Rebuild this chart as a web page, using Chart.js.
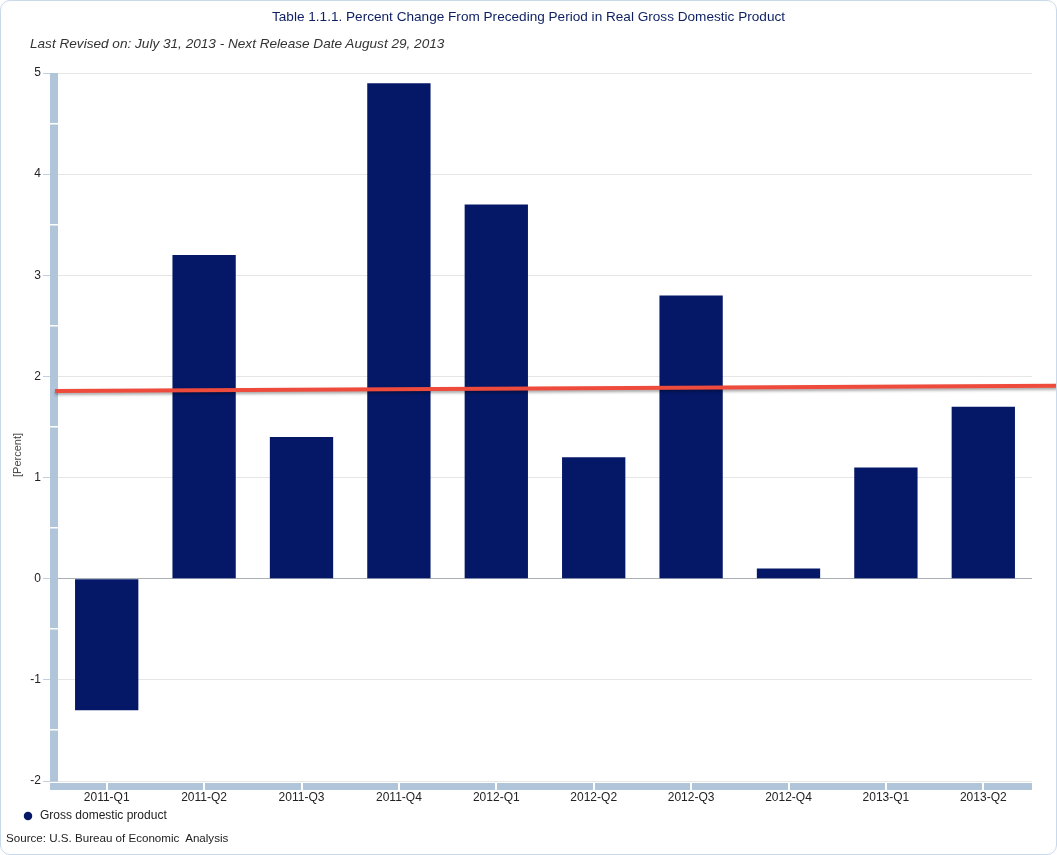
<!DOCTYPE html>
<html>
<head>
<meta charset="utf-8">
<script src="https://cdn.jsdelivr.net/npm/chart.js@4"></script>
<style>
  html, body { margin: 0; padding: 0; background: #fff; }
  #wrap { position: relative; width: 1057px; height: 855px; font-family: "Liberation Sans", Arial, sans-serif; }
  #chart { position: absolute; left: 0; top: 0; }
  #frame { position: absolute; left: 0; top: 0; width: 1057px; height: 855px; box-sizing: border-box;
           border: 1px solid #c9d8ea; border-radius: 10px; pointer-events: none; }
  #sub { position: absolute; left: 30px; top: 36px; font-style: italic; font-size: 13.6px; color: #333; white-space: nowrap; }
  #src { position: absolute; left: 6px; top: 831px; font-size: 11.6px; color: #222; white-space: pre; }
  #ytitle { position: absolute; left: 17px; top: 455px; transform: translate(-50%, -50%) rotate(-90deg);
            font-size: 11px; color: #444; white-space: nowrap; }
</style>
</head>
<body>
<div id="wrap">
  <canvas id="chart" width="1057" height="855"></canvas>
  <div id="sub">Last Revised on: July 31, 2013 - Next Release Date August 29, 2013</div>
  <div id="ytitle">[Percent]</div>
  <div id="src">Source: U.S. Bureau of Economic  Analysis</div>
  <div id="frame"></div>
</div>
<script>
// ---- data ----
const categories = ['2011-Q1', '2011-Q2', '2011-Q3', '2011-Q4', '2012-Q1', '2012-Q2', '2012-Q3', '2012-Q4', '2013-Q1', '2013-Q2'];
const gdpChange = [-1.3, 3.2, 1.4, 4.9, 3.7, 1.2, 2.8, 0.1, 1.1, 1.7];
const seriesName = 'Gross domestic product';
// reference line (position along category index, value in percent)
const trendX = [-0.53, 9.76];
const trendY = [1.855, 1.907];
const yMin = -2, yMax = 5, yStep = 1;

const navy = '#051868';
const axisBlue = '#b0c4da';
const FONT = '"Liberation Sans", Arial, sans-serif';

const axisBars = {
  id: 'axisBars',
  beforeDatasetsDraw(chart) {
    const { ctx, chartArea: a, scales } = chart;
    const x = scales.x, y = scales.y;
    ctx.save();
    ctx.fillStyle = axisBlue;
    ctx.fillRect(a.left - 8, a.top, 8, a.bottom - a.top);
    ctx.fillRect(a.left - 8, a.bottom + 2, a.right - a.left + 8, 7);
    ctx.fillStyle = '#ffffff';
    for (let v = yMin + yStep / 2; v < yMax; v += yStep) {
      const p = y.getPixelForValue(v);
      ctx.fillRect(a.left - 8, Math.round(p) - 1, 8, 1.5);
    }
    categories.forEach((c, i) => {
      const p = x.getPixelForValue(i);
      ctx.fillRect(Math.round(p) - 1, a.bottom + 2, 2, 7);
    });
    ctx.restore();
  }
};

const lineShadow = {
  id: 'lineShadow',
  beforeDatasetDraw(chart, args) {
    if (chart.data.datasets[args.index].type === 'line') {
      const c = chart.ctx;
      c.save();
      c.shadowColor = 'rgba(0,0,0,0.35)';
      c.shadowBlur = 3;
      c.shadowOffsetY = 2;
    }
  },
  afterDatasetDraw(chart, args) {
    if (chart.data.datasets[args.index].type === 'line') chart.ctx.restore();
  }
};

new Chart(document.getElementById('chart'), {
  type: 'bar',
  data: {
    datasets: [
      {
        type: 'line',
        label: 'reference',
        data: trendX.map((v, i) => ({ x: v, y: trendY[i] })),
        borderColor: '#ef4b3c',
        borderWidth: 4,
        pointRadius: 0,
        clip: false,
        order: 0
      },
      {
        type: 'bar',
        label: seriesName,
        data: categories.map((c, i) => ({ x: i, y: gdpChange[i] })),
        backgroundColor: navy,
        borderWidth: 0,
        grouped: false,
        barPercentage: 0.65,
        categoryPercentage: 1.0,
        order: 1
      }
    ]
  },
  options: {
    responsive: false,
    animation: false,
    devicePixelRatio: 1,
    layout: { padding: { left: 16, right: 16, top: 0, bottom: 23 } },
    plugins: {
      title: {
        display: true,
        text: 'Table 1.1.1. Percent Change From Preceding Period in Real Gross Domestic Product',
        color: '#0d1f63',
        font: { family: FONT, size: 13.6, weight: 'normal' },
        padding: { top: 9, bottom: 47.7 }
      },
      legend: {
        display: true,
        position: 'bottom',
        align: 'start',
        labels: {
          filter: (item) => item.text === seriesName,
          usePointStyle: true,
          pointStyle: 'circle',
          boxHeight: 6,
          padding: 6,
          color: '#222',
          font: { family: FONT, size: 12 }
        }
      },
      tooltip: { enabled: false }
    },
    scales: {
      x: {
        type: 'linear',
        min: -0.5,
        max: 9.5,
        offset: false,
        afterBuildTicks: (s) => { s.ticks = categories.map((c, i) => ({ value: i })); },
        afterFit: (s) => { s.height = 23; },
        grid: { display: false, drawTicks: false },
        border: { display: false },
        ticks: {
          autoSkip: false,
          maxRotation: 0,
          color: '#222',
          padding: 9,
          font: { family: FONT, size: 12 },
          callback: (v) => categories[v] ?? ''
        }
      },
      y: {
        min: yMin,
        max: yMax,
        afterFit: (s) => { s.width = 42; },
        ticks: { stepSize: yStep, color: '#222', padding: 2, font: { family: FONT, size: 12 } },
        grid: {
          color: (ctx) => (ctx.tick && ctx.tick.value === 0 ? '#aab0b8' : '#e6e6e6'),
          lineWidth: 1,
          tickLength: 15,
          tickColor: '#c0d0e0'
        },
        border: { display: false }
      },
      yPad: {
        type: 'linear',
        position: 'right',
        afterFit: (s) => { s.width = 9; },
        grid: { display: false, drawTicks: false },
        ticks: { display: false },
        border: { display: false }
      }
    }
  },
  plugins: [axisBars, lineShadow]
});
</script>
</body>
</html>
